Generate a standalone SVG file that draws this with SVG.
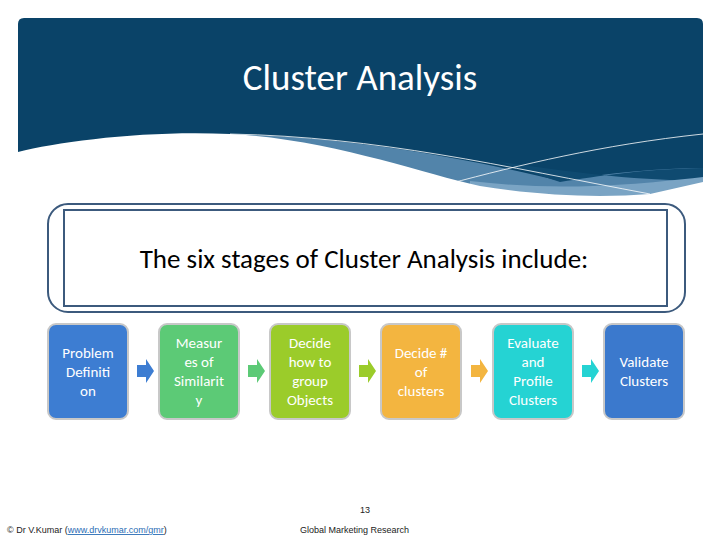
<svg xmlns="http://www.w3.org/2000/svg" width="720" height="540" viewBox="0 0 720 540">
<style>
.t{font-family:Calibri,"Open Sans","Liberation Sans",sans-serif;fill:#fff;font-size:15px;text-anchor:middle}
.box{stroke:#c8c8c8;stroke-width:2}
.ft{font-family:"Liberation Sans",sans-serif;font-size:9px;fill:#222}
</style>
<rect width="720" height="540" fill="#fff"/>
<g id="header">
<path d="M18,24 Q18,18 24,18 L697,18 Q703,18 703,24 L703,210 L18,210 Z" fill="#0a4368"/>
<path d="M220,134 C350,136 470,159 560,181 C610,173 660,168 703,168 L703,210 L200,210 Z" fill="#5284aa"/>
<path d="M500,162 C560,170 620,180 703,181 L703,168 C640,169 600,176 560,182 Z" fill="#0f4a70"/>
<path d="M470,181 C540,189 600,189 703,177 L703,210 L470,210 Z" fill="#7aa4c4"/>
<path d="M18,152 C60,141 150,130 230,134 C330,139 420,173 480,186 C540,196 600,198 650,194 L703,182 L703,215 L18,215 Z" fill="#fff"/>
<path d="M230,134 C380,137 500,166 650,194" stroke="#fff" stroke-width="0.8" fill="none"/>
<path d="M448,184 C520,165 600,145 703,134" stroke="#fff" stroke-width="0.8" fill="none"/>
<text x="360" y="90" font-family="Calibri,'Open Sans','Liberation Sans',sans-serif" font-size="37" fill="#fff" text-anchor="middle">Cluster Analysis</text>
</g>
<g id="subtitle">
<rect x="48" y="204" width="637" height="108" rx="20" fill="#fff" stroke="#3c5a7d" stroke-width="2"/>
<rect x="64" y="210" width="603" height="96" fill="none" stroke="#3c5a7d" stroke-width="2"/>
<text x="364" y="268" font-family="Calibri,'Open Sans','Liberation Sans',sans-serif" font-size="27" fill="#000" text-anchor="middle">The six stages of Cluster Analysis include:</text>
</g>
<g id="n1"><rect class="box" x="48" y="324" width="80" height="95" rx="8" fill="#3d7dd2"/>
<text class="t" x="88" y="358">Problem</text><text class="t" x="88" y="377">Definiti</text><text class="t" x="88" y="396">on</text></g>
<g id="n2"><rect class="box" x="159" y="324" width="80" height="95" rx="8" fill="#5cca76"/>
<text class="t" x="199" y="348">Measur</text><text class="t" x="199" y="367">es of</text><text class="t" x="199" y="386">Similarit</text><text class="t" x="199" y="405">y</text></g>
<g id="n3"><rect class="box" x="270" y="324" width="80" height="95" rx="8" fill="#9bcc2a"/>
<text class="t" x="310" y="348">Decide</text><text class="t" x="310" y="367">how to</text><text class="t" x="310" y="386">group</text><text class="t" x="310" y="405">Objects</text></g>
<g id="n4"><rect class="box" x="381" y="324" width="80" height="95" rx="8" fill="#f3b540"/>
<text class="t" x="421" y="358">Decide #</text><text class="t" x="421" y="377">of</text><text class="t" x="421" y="396">clusters</text></g>
<g id="n5"><rect class="box" x="493" y="324" width="80" height="95" rx="8" fill="#25d3d3"/>
<text class="t" x="533" y="348">Evaluate</text><text class="t" x="533" y="367">and</text><text class="t" x="533" y="386">Profile</text><text class="t" x="533" y="405">Clusters</text></g>
<g id="n6"><rect class="box" x="604" y="324" width="80" height="95" rx="8" fill="#3b79cd"/>
<text class="t" x="644" y="367">Validate</text><text class="t" x="644" y="386">Clusters</text></g>
<g id="connectors">
<path d="M137,365 h9 v-6 l8,12 l-8,12 v-6 h-9 z" fill="#3d7dd2"/>
<path d="M248,365 h9 v-6 l8,12 l-8,12 v-6 h-9 z" fill="#5cca76"/>
<path d="M359,365 h9 v-6 l8,12 l-8,12 v-6 h-9 z" fill="#9bcc2a"/>
<path d="M471,365 h9 v-6 l8,12 l-8,12 v-6 h-9 z" fill="#f3b540"/>
<path d="M582,365 h9 v-6 l8,12 l-8,12 v-6 h-9 z" fill="#25d3d3"/>
</g>
<g id="footer">
<text class="ft" x="365" y="513" text-anchor="middle" font-size="8">13</text>
<text class="ft" x="7" y="533">© Dr V.Kumar (<tspan fill="#2a6db5" text-decoration="underline">www.drvkumar.com/gmr</tspan>)</text>
<text class="ft" x="300" y="533">Global Marketing Research</text>
</g>
</svg>
